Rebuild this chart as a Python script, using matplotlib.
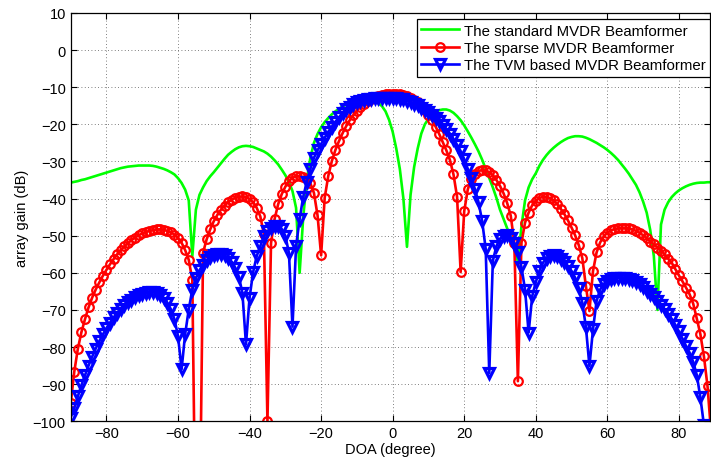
import matplotlib

matplotlib.use("Agg")
import matplotlib.pyplot as plt
import numpy as np


# DOA grid, one sample per degree
doa = np.arange(-90, 91)

# standard MVDR beamformer (dB)
standard_gain = [
    -35.7, -35.5, -35.3, -35.0, -34.8, -34.5, -34.2, -33.9, -33.6, -33.3,
    -33.0, -32.7, -32.4, -32.1, -31.8, -31.6, -31.4, -31.3, -31.2, -31.1,
    -31.1, -31.1, -31.1, -31.2, -31.4, -31.7, -32.0, -32.4, -32.9, -33.5,
    -34.5, -35.8, -37.6, -40.5, -55.5, -43.0, -39.0, -37.0, -35.3, -34.0,
    -32.9, -31.7, -30.5, -29.3, -28.2, -27.4, -26.7, -26.2, -25.9, -25.8,
    -25.9, -26.1, -26.5, -26.9, -27.3, -27.9, -28.7, -29.7, -30.8, -32.2,
    -33.7, -35.5, -38.0, -42.5, -60.0, -45.0, -35.0, -29.0, -25.0, -22.6,
    -20.8, -19.4, -18.3, -17.3, -16.5, -15.8, -15.2, -14.7, -14.3, -14.0,
    -13.7, -13.5, -13.4, -13.4, -13.5, -13.8, -14.3, -15.1, -16.5, -18.8,
    -22.0, -26.5, -32.0, -40.0, -53.0, -39.0, -31.5, -26.5, -22.5, -20.0,
    -18.5, -17.4, -16.7, -16.2, -16.0, -16.0, -16.3, -16.9, -17.8, -18.9,
    -20.3, -21.9, -23.6, -25.4, -27.3, -29.5, -32.0, -34.5, -37.0, -39.8,
    -43.0, -45.5, -48.0, -50.5, -53.5, -57.0, -47.5, -40.5, -37.0, -34.8,
    -33.2, -31.2, -29.6, -28.3, -27.2, -26.3, -25.5, -24.8, -24.2, -23.7,
    -23.4, -23.2, -23.2, -23.3, -23.6, -24.0, -24.5, -25.0, -25.6, -26.2,
    -26.9, -27.7, -28.6, -29.6, -30.8, -32.0, -33.3, -34.8, -36.3, -38.3,
    -40.8, -43.8, -48.5, -55.5, -70.0, -47.0, -43.0, -41.0, -39.6, -38.6,
    -37.8, -37.2, -36.7, -36.3, -36.0, -35.8, -35.7, -35.7, -35.6, -35.6,
    -35.6,
]

# sparse MVDR beamformer (dB)
sparse_gain = [
    -95.2, -86.7, -80.5, -76.0, -72.5, -69.3, -66.7, -64.5, -62.6, -60.8,
    -59.2, -57.7, -56.3, -55.0, -53.9, -52.9, -52.0, -51.2, -50.5, -49.9,
    -49.4, -49.0, -48.7, -48.5, -48.3, -48.3, -48.4, -48.7, -49.1, -49.7,
    -50.6, -51.9, -53.9, -56.5, -61.9, -140.0, -135.0, -54.6, -51.0, -48.3,
    -46.1, -44.4, -43.0, -41.9, -41.0, -40.3, -39.8, -39.5, -39.4, -39.6,
    -40.1, -41.0, -42.5, -44.8, -49.5, -100.0, -52.0, -45.5, -41.5, -38.8,
    -36.8, -35.3, -34.4, -34.0, -33.9, -34.2, -34.8, -35.9, -38.5, -44.5,
    -55.3, -39.8, -33.9, -29.9, -26.9, -24.5, -22.4, -20.5, -18.9, -17.5,
    -16.3, -15.3, -14.5, -13.8, -13.2, -12.7, -12.3, -12.0, -11.8, -11.7,
    -11.7, -11.7, -11.8, -12.0, -12.3, -12.8, -13.4, -14.1, -15.0, -16.1,
    -17.4, -18.9, -20.6, -22.6, -24.8, -27.0, -29.6, -33.5, -39.5, -59.8,
    -43.4, -37.5, -34.8, -33.3, -32.6, -32.3, -32.4, -32.9, -33.7, -35.0,
    -36.6, -38.6, -41.2, -44.6, -51.9, -89.2, -51.9, -46.5, -43.8, -41.8,
    -40.6, -39.9, -39.5, -39.5, -39.9, -40.5, -41.5, -42.8, -44.2, -45.9,
    -47.8, -49.9, -52.5, -56.0, -63.5, -70.3, -59.5, -54.5, -51.8, -50.2,
    -49.2, -48.6, -48.2, -48.0, -47.9, -47.9, -48.0, -48.3, -48.7, -49.2,
    -49.9, -50.6, -51.6, -52.3, -53.2, -54.0, -55.0, -56.2, -57.3, -59.0,
    -60.7, -62.3, -64.0, -65.8, -68.3, -72.3, -76.5, -82.5, -90.5, -103.0,
    -130.0,
]

# TVM based MVDR beamformer (dB)
tvm_gain = [
    -99.0, -96.5, -93.3, -90.3, -87.6, -85.0, -82.6, -80.4, -78.4, -76.6,
    -74.9, -73.4, -72.0, -70.8, -69.7, -68.7, -67.9, -67.2, -66.6, -66.1,
    -65.7, -65.4, -65.2, -65.2, -65.5, -66.0, -66.8, -68.0, -69.8, -72.5,
    -77.0, -86.0, -76.5, -69.9, -64.5, -61.5, -59.3, -57.8, -56.6, -55.8,
    -55.3, -55.0, -55.0, -55.3, -56.0, -57.0, -58.6, -61.0, -65.4, -79.3,
    -66.7, -59.8, -55.5, -52.8, -50.1, -48.8, -48.0, -47.5, -47.5, -48.2,
    -50.0, -54.6, -74.5, -52.8, -45.5, -39.5, -35.5, -32.0, -29.0, -27.0,
    -25.3, -23.6, -22.0, -20.6, -19.3, -18.1, -17.0, -16.0, -15.2, -14.6,
    -14.1, -13.8, -13.5, -13.3, -13.1, -13.0, -12.9, -12.9, -12.9, -12.9,
    -13.0, -13.0, -13.1, -13.3, -13.6, -14.0, -14.4, -14.9, -15.5, -16.1,
    -16.8, -17.5, -18.3, -19.2, -20.2, -21.3, -22.5, -23.9, -25.5, -27.2,
    -29.4, -32.0, -34.5, -37.5, -41.0, -46.0, -53.5, -87.0, -56.8, -52.8,
    -50.8, -50.0, -49.9, -50.5, -52.0, -54.5, -58.5, -64.5, -76.1, -66.3,
    -62.5, -59.5, -57.3, -56.0, -55.4, -55.3, -55.6, -56.2, -57.1, -58.2,
    -59.5, -61.3, -64.0, -68.0, -74.5, -85.1, -75.2, -67.6, -64.5, -63.0,
    -62.2, -61.8, -61.5, -61.4, -61.4, -61.4, -61.6, -62.0, -62.5, -63.1,
    -63.9, -64.8, -65.7, -66.6, -67.6, -68.6, -69.8, -71.0, -72.4, -74.0,
    -75.8, -77.7, -79.7, -81.5, -84.0, -87.5, -93.5, -101.0, -110.0, -125.0,
    -150.0,
]

series_labels = [
    "The standard MVDR Beamformer",
    "The sparse MVDR Beamformer",
    "The TVM based MVDR Beamformer",
]
x_ticks = [-80, -60, -40, -20, 0, 20, 40, 60, 80]
y_ticks = [-100, -90, -80, -70, -60, -50, -40, -30, -20, -10, 0, 10]


def main() -> None:
    plt.rcParams["font.family"] = ["Liberation Sans", "DejaVu Sans"]
    plt.rcParams["axes.unicode_minus"] = True

    fig = plt.figure(figsize=(7.11, 4.64), dpi=100)
    fig.patch.set_facecolor("white")
    ax = fig.add_axes([0.0994, 0.0899, 0.8992, 0.880])

    ax.plot(doa, standard_gain, color="#00ff00", linewidth=1.9,
            label=series_labels[0])
    ax.plot(doa, sparse_gain, color="#ff0000", linewidth=1.9,
            marker="o", markersize=6.2, markerfacecolor="none",
            markeredgewidth=1.6, label=series_labels[1])
    ax.plot(doa, tvm_gain, color="#0000ff", linewidth=1.9,
            marker="v", markersize=7.2, markerfacecolor="none",
            markeredgewidth=2.3, label=series_labels[2])

    ax.set_xlim(-90, 88.7)
    ax.set_ylim(-100, 10)
    ax.set_xticks(x_ticks)
    ax.set_yticks(y_ticks)
    ax.tick_params(axis="both", which="major", direction="in", length=4,
                   width=0.8, labelsize=10.5, top=True, right=True,
                   colors="black")
    for side in ("top", "right", "bottom", "left"):
        ax.spines[side].set_linewidth(0.9)
        ax.spines[side].set_color("black")
    ax.grid(True, linestyle=(0, (1, 3)), color="#555555", linewidth=0.6)

    ax.set_xlabel("DOA (degree)", fontsize=10.5, labelpad=1)
    ax.set_ylabel("array gain (dB)", fontsize=10.5, labelpad=3)

    leg = ax.legend(loc="upper right", bbox_to_anchor=(1.0, 0.985),
                    borderaxespad=0, fontsize=10.8, frameon=True,
                    fancybox=False, edgecolor="black", framealpha=1,
                    handlelength=2.5, handletextpad=0.35, borderpad=0.3,
                    labelspacing=0.22)
    leg.get_frame().set_linewidth(0.9)

    fig.savefig("out.png", dpi=100)
    plt.close(fig)


if __name__ == "__main__":
    main()
